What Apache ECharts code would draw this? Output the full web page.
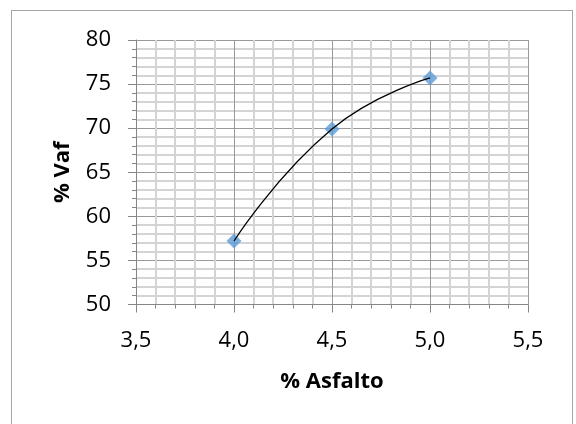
<!DOCTYPE html>
<html>
<head>
<meta charset="utf-8">
<script src="https://cdn.jsdelivr.net/npm/echarts@6/dist/echarts.min.js"></script>
<style>
  html, body { margin: 0; padding: 0; background: #fff; }
  #wrap { position: relative; width: 576px; height: 424px; overflow: hidden; }
  #frame { position: absolute; left: 11px; top: 10px; width: 562px; height: 430px;
           border: 1px solid #a6a6a6; box-sizing: border-box; }
  #chart { position: absolute; left: 0; top: 0; width: 576px; height: 424px; }
</style>
</head>
<body>
<div id="wrap">
  <div id="frame"></div>
  <div id="chart"></div>
</div>
<script>
// Asphalt content (%) vs. voids filled with asphalt (%)
const asfalto = [4.0, 4.5, 5.0];
const vaf = [57.2, 69.9, 75.7];
const xTicks = [3.5, 4.0, 4.5, 5.0, 5.5];
const yTicks = [50, 55, 60, 65, 70, 75, 80];

const points = asfalto.map((x, i) => [x, vaf[i]]);
const fmtX = v => v.toFixed(1).replace('.', ',');
const FONT = 'Open Sans';

const chart = echarts.init(document.getElementById('chart'), null, { renderer: 'canvas' });
chart.setOption({
  animation: false,
  backgroundColor: 'transparent',
  grid: { left: 136, right: 48, top: 40, bottom: 119.5, containLabel: false },
  xAxis: {
    type: 'value',
    min: xTicks[0], max: xTicks[xTicks.length - 1], interval: 0.5,
    name: '% Asfalto', nameLocation: 'middle', nameGap: 66,
    nameTextStyle: { fontFamily: FONT, fontWeight: 'bold', fontSize: 22, color: '#000' },
    axisLine: { show: true, lineStyle: { color: '#868686', width: 1 } },
    axisTick: { show: true, length: 8, lineStyle: { color: '#868686' } },
    minorTick: { show: true, splitNumber: 5, length: 4, lineStyle: { color: '#868686' } },
    axisLabel: { formatter: fmtX, fontFamily: FONT, fontSize: 22, color: '#000', margin: 25 },
    splitLine: { show: true, lineStyle: { color: '#9a9a9a', width: 1 } },
    minorSplitLine: { show: true, lineStyle: { color: '#d4d4d4', width: 2 } }
  },
  yAxis: {
    type: 'value',
    min: yTicks[0], max: yTicks[yTicks.length - 1], interval: 5,
    name: '% Vaf', nameLocation: 'middle', nameGap: 62, nameRotate: 90,
    nameTextStyle: { fontFamily: FONT, fontWeight: 'bold', fontSize: 22, color: '#000' },
    axisLine: { show: true, lineStyle: { color: '#868686', width: 1 } },
    axisTick: { show: true, length: 8, lineStyle: { color: '#868686' } },
    minorTick: { show: true, splitNumber: 5, length: 4, lineStyle: { color: '#868686' } },
    axisLabel: { fontFamily: FONT, fontSize: 22, color: '#000', margin: 25 },
    splitLine: { show: true, lineStyle: { color: '#9a9a9a', width: 1 } },
    minorSplitLine: { show: true, lineStyle: { color: '#d4d4d4', width: 2 } }
  },
  series: [
    {
      type: 'scatter',
      data: points,
      symbol: 'diamond',
      symbolSize: 15,
      itemStyle: { color: '#5b9bd5' },
      z: 2
    },
    {
      type: 'line',
      data: points,
      smooth: 0.5,
      showSymbol: false,
      symbol: 'none',
      lineStyle: { color: '#000', width: 1.3 },
      z: 3
    }
  ]
});
</script>
</body>
</html>
